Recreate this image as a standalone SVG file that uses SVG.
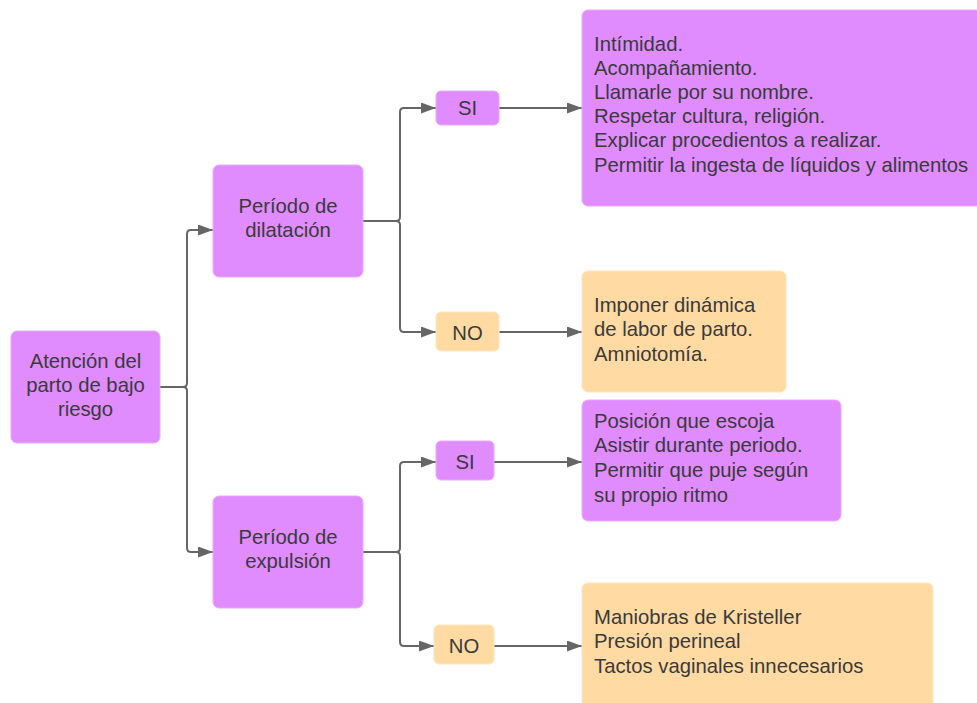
<svg xmlns="http://www.w3.org/2000/svg" width="977" height="703" viewBox="0 0 977 703">
<defs>
<marker id="arr" markerWidth="15" markerHeight="11" refX="15" refY="5.5" orient="auto" markerUnits="userSpaceOnUse">
<path d="M0,0 L15,5.5 L0,11 Z" fill="#666666"/>
</marker>
<style>
.p{fill:#e08cff;stroke:#eba8ff;stroke-width:1}
.o{fill:#ffdba3;stroke:#ffe5bd;stroke-width:1}
text{font-family:"Liberation Sans",Arial,sans-serif;font-size:20.3px;fill:#3a3a3a}
.c{text-anchor:middle}
.ln{fill:none;stroke:#666666;stroke-width:2}
</style>
</defs>
<rect width="977" height="703" fill="#ffffff"/>
<g id="connectors">
<path class="ln" d="M160,387 H183 Q187,387 187,383 V234 Q187,230 191,230 H213" marker-end="url(#arr)"/>
<path class="ln" d="M183,387 Q187,387 187,391 V548 Q187,552 191,552 H213" marker-end="url(#arr)"/>
<path class="ln" d="M363,221 H396 Q400,221 400,217 V112 Q400,108 404,108 H436" marker-end="url(#arr)"/>
<path class="ln" d="M396,221 Q400,221 400,225 V328 Q400,332 404,332 H436" marker-end="url(#arr)"/>
<path class="ln" d="M363,552 H396 Q400,552 400,548 V466 Q400,462 404,462 H436" marker-end="url(#arr)"/>
<path class="ln" d="M396,552 Q400,552 400,556 V642 Q400,646 404,646 H434" marker-end="url(#arr)"/>
<path class="ln" d="M499,108 H582" marker-end="url(#arr)"/>
<path class="ln" d="M499,332 H582" marker-end="url(#arr)"/>
<path class="ln" d="M494,462 H582" marker-end="url(#arr)"/>
<path class="ln" d="M494,646 H582" marker-end="url(#arr)"/>
</g>
<g id="root">
<rect class="p" x="11" y="331" width="149" height="112" rx="6"/>
<text class="c" x="85.5" y="368">Atención del</text>
<text class="c" x="85.5" y="392">parto de bajo</text>
<text class="c" x="85.5" y="416">riesgo</text>
</g>
<g id="dilatacion">
<rect class="p" x="213" y="165" width="150" height="112" rx="6"/>
<text class="c" x="288" y="213">Período de</text>
<text class="c" x="288" y="237">dilatación</text>
</g>
<g id="expulsion">
<rect class="p" x="213" y="496" width="150" height="112" rx="6"/>
<text class="c" x="288" y="544">Período de</text>
<text class="c" x="288" y="568">expulsión</text>
</g>
<g id="si1">
<rect class="p" x="436" y="91" width="63" height="34" rx="5"/>
<text class="c" x="467.5" y="115">SI</text>
</g>
<g id="no1">
<rect class="o" x="436" y="312" width="63" height="39" rx="5"/>
<text class="c" x="467.5" y="340">NO</text>
</g>
<g id="si2">
<rect class="p" x="436" y="441" width="58" height="39" rx="5"/>
<text class="c" x="465" y="469">SI</text>
</g>
<g id="no2">
<rect class="o" x="434" y="625" width="60" height="39" rx="5"/>
<text class="c" x="464" y="653">NO</text>
</g>
<g id="box1">
<rect class="p" x="582" y="10" width="400" height="196" rx="6"/>
<text x="594" y="51">Intímidad.</text>
<text x="594" y="75">Acompañamiento.</text>
<text x="594" y="99">Llamarle por su nombre.</text>
<text x="594" y="123">Respetar cultura, religión.</text>
<text x="594" y="147">Explicar procedientos a realizar.</text>
<text x="594" y="172">Permitir la ingesta de líquidos y alimentos</text>
</g>
<g id="box2">
<rect class="o" x="582" y="271" width="204" height="121" rx="6"/>
<text x="594" y="312">Imponer dinámica</text>
<text x="594" y="336">de labor de parto.</text>
<text x="594" y="361">Amniotomía.</text>
</g>
<g id="box3">
<rect class="p" x="582" y="400" width="259" height="121" rx="6"/>
<text x="594" y="428">Posición que escoja</text>
<text x="594" y="452">Asistir durante periodo.</text>
<text x="594" y="477">Permitir que puje según</text>
<text x="594" y="502">su propio ritmo</text>
</g>
<g id="box4">
<rect class="o" x="582" y="583" width="351" height="126" rx="6"/>
<text x="594" y="624">Maniobras de Kristeller</text>
<text x="594" y="648">Presión perineal</text>
<text x="594" y="673">Tactos vaginales innecesarios</text>
</g>
</svg>
